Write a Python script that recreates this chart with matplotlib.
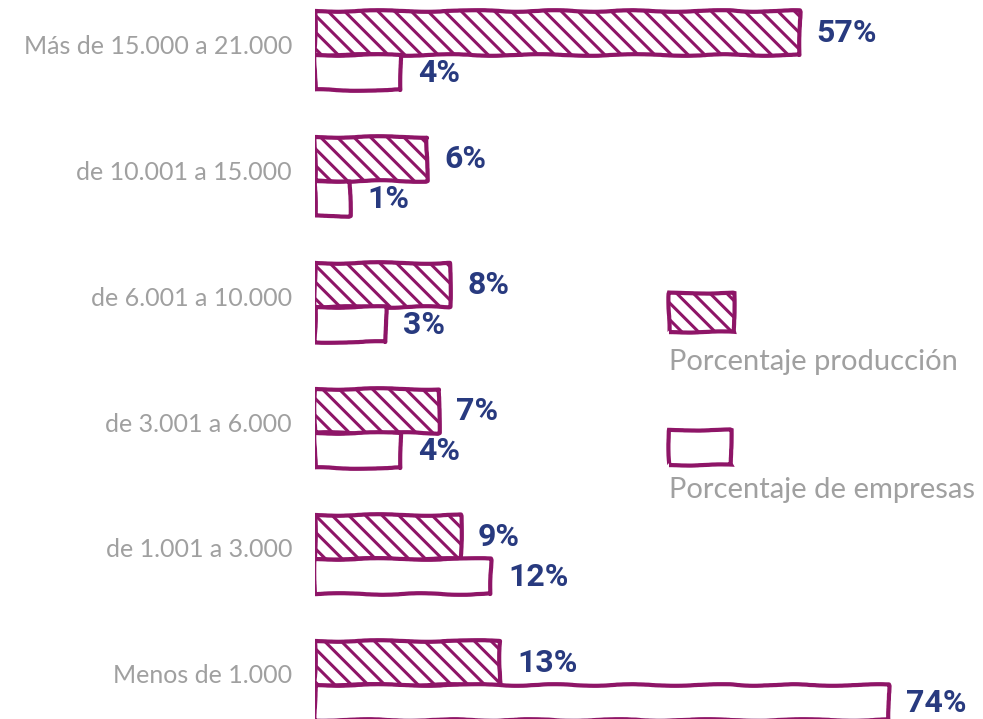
import matplotlib
matplotlib.use("Agg")
import matplotlib.pyplot as plt
from matplotlib.patches import Rectangle
import numpy as np

categories = ["Más de 15.000 a 21.000", "de 10.001 a 15.000", "de 6.001 a 10.000",
              "de 3.001 a 6.000", "de 1.001 a 3.000", "Menos de 1.000"]
produccion = [57, 6, 8, 7, 9, 13]
empresas = [4, 1, 3, 4, 12, 74]
legend_labels = ["Porcentaje producción", "Porcentaje de empresas"]

PURPLE = "#8E1567"
BLUE = "#283A7F"
GRAY = "#A0A0A0"

plt.rcParams['hatch.linewidth'] = 2.2
plt.rcParams['hatch.color'] = PURPLE

fig = plt.figure(figsize=(9.83, 7.19), dpi=100)
ax = fig.add_axes([315/983, 0, 1 - 315/983, 1])

pw = 0.65
ax.set_xscale('function', functions=(lambda x: np.sign(x) * np.abs(x) ** pw,
                                     lambda x: np.sign(x) * np.abs(x) ** (1 / pw)))
ax.set_xlim(0, 93.4)
ax.set_ylim(5.27, -0.437)

h1 = 0.35
h2 = 0.28
y = np.arange(len(categories))
b1 = ax.barh(y - h1 / 2, produccion, height=h1, facecolor="white", edgecolor=PURPLE,
             linewidth=3, hatch="\\\\")
b2 = ax.barh(y + h2 / 2, empresas, height=h2, facecolor="white", edgecolor=PURPLE,
             linewidth=3)
for p in list(b1) + list(b2):
    p.set_sketch_params(scale=0.8, length=120, randomness=4)
    p.set_joinstyle('round')

vfont = dict(family=['Roboto', 'DejaVu Sans'],
             fontweight='bold', fontsize=23, color=BLUE)
for yi, v in zip(y, produccion):
    ax.annotate(f"{v}%", xy=(v, yi - h1 / 2), xytext=(17, 0), textcoords='offset pixels',
                ha='left', va='center', **vfont)
for yi, v in zip(y, empresas):
    ax.annotate(f"{v}%", xy=(v, yi + h2 / 2), xytext=(17, 0), textcoords='offset pixels',
                ha='left', va='center', **vfont)

cfont = dict(family=['Lato', 'DejaVu Sans'], fontweight='normal', fontsize=18, color=GRAY)
for yi, c in zip(y, categories):
    ax.annotate(c, xy=(0, yi), xytext=(-23, 9), textcoords='offset pixels',
                ha='right', va='center', annotation_clip=False, **cfont)

ax.set_xticks([])
ax.set_yticks([])
for s in ax.spines.values():
    s.set_visible(False)

# legend
W, H = 983, 719
def fig_rect(x0, y0, x1, y1, **kw):
    r = Rectangle((x0 / W, 1 - y1 / H), (x1 - x0) / W, (y1 - y0) / H,
                  transform=fig.transFigure, facecolor="white", edgecolor=PURPLE,
                  linewidth=3, **kw)
    r.set_sketch_params(scale=0.6, length=100, randomness=4)
    fig.patches.append(r)

fig_rect(669, 293, 734, 332, hatch="\\\\")
fig_rect(669, 430, 731, 465)
lfont = dict(family=['Lato', 'DejaVu Sans'], fontweight='normal', fontsize=21, color=GRAY)
fig.text(669 / W, 1 - 362 / H, legend_labels[0], ha='left', va='center', **lfont)
fig.text(669 / W, 1 - 490 / H, legend_labels[1], ha='left', va='center', **lfont)

fig.savefig("out.png", dpi=100)
